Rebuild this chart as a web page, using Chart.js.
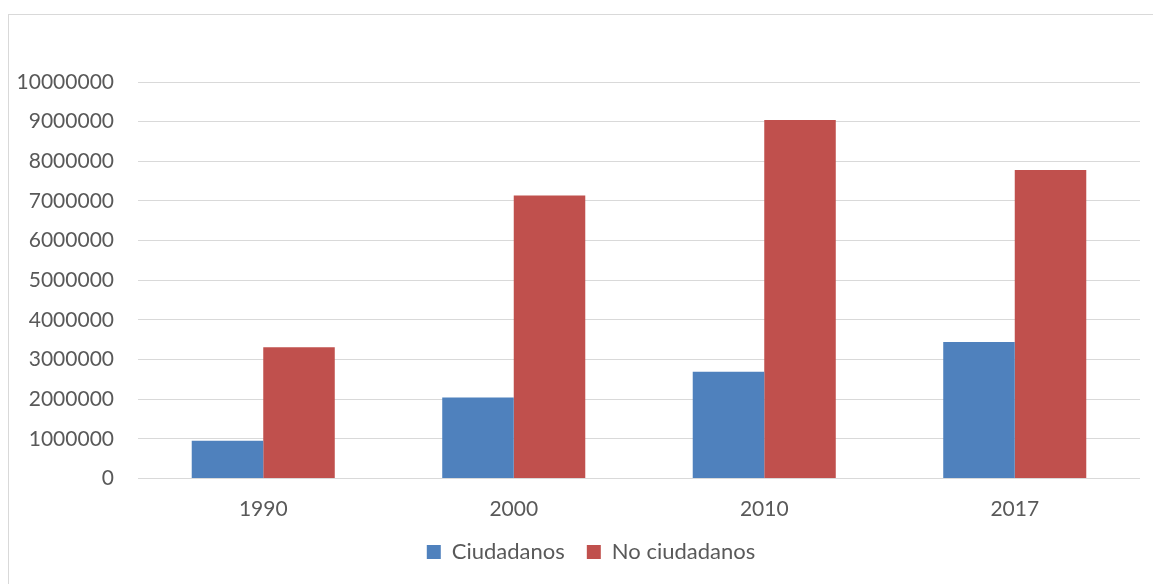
<!DOCTYPE html>
<html>
<head>
<meta charset="utf-8">
<script src="https://cdn.jsdelivr.net/npm/chart.js@4.4.1/dist/chart.umd.min.js"></script>
<style>
  html, body { margin: 0; padding: 0; background: #fff; overflow: hidden; }
  .frame {
    position: absolute; left: 8px; top: 14px;
    width: 1170px; height: 600px;
    border: 1px solid #d9d9d9;
  }
  .Charts { position: absolute; left: 0; top: 0; width: 1153px; height: 584px; }
</style>
</head>
<body>
<div class="frame"></div>
<div class="Charts">
  <canvas id="myChart"></canvas>
</div>
<script>
const years = ['1990', '2000', '2010', '2017'];
const ciudadanos = [950000, 2040000, 2690000, 3440000];
const noCiudadanos = [3310000, 7140000, 9040000, 7780000];
const yTicks = [0, 1000000, 2000000, 3000000, 4000000, 5000000,
  6000000, 7000000, 8000000, 9000000, 10000000];

const tickFont = { family: 'Lato, "Open Sans", sans-serif', size: 21, lineHeight: 1 };
const legendFont = { family: 'Lato, "Open Sans", sans-serif', size: 22 };

// nudge the legend a bit to the right of the canvas centre
const legendShift = {
  id: 'legendShift',
  afterLayout(chart) {
    if (chart.legend) chart.legend.left += 42;
  }
};

const ctx = document.getElementById('myChart').getContext('2d');
new Chart(ctx, {
  type: 'bar',
  data: {
    labels: years,
    datasets: [
      {
        label: 'Ciudadanos',
        data: ciudadanos,
        backgroundColor: '#4f81bd',
        barPercentage: 1,
        categoryPercentage: 0.571
      },
      {
        label: 'No ciudadanos',
        data: noCiudadanos,
        backgroundColor: '#c0504d',
        barPercentage: 1,
        categoryPercentage: 0.571
      }
    ]
  },
  options: {
    responsive: true,
    maintainAspectRatio: false,
    animation: false,
    layout: { padding: { top: 82, right: 13, bottom: 11, left: 0 } },
    plugins: {
      tooltip: { enabled: false },
      legend: {
        position: 'bottom',
        labels: {
          color: '#595959',
          font: legendFont,
          boxWidth: 14,
          boxHeight: 14,
          padding: 22
        }
      }
    },
    scales: {
      x: {
        // fixed height so the year labels sit close above the legend
        afterFit: (axis) => { axis.height = 40.5; },
        grid: { display: false, drawTicks: false },
        border: { display: false },
        ticks: { color: '#595959', font: tickFont, padding: 20 }
      },
      y: {
        min: 0,
        max: 10000000,
        afterBuildTicks: (axis) => { axis.ticks = yTicks.map(v => ({ value: v })); },
        afterFit: (axis) => { axis.width = 138; },
        grid: { color: '#d9d9d9', lineWidth: 1, drawTicks: false },
        border: { display: false },
        ticks: {
          color: '#595959',
          font: tickFont,
          padding: 24,
          callback: (v) => String(v)
        }
      }
    }
  },
  plugins: [legendShift]
});
</script>
</body>
</html>
